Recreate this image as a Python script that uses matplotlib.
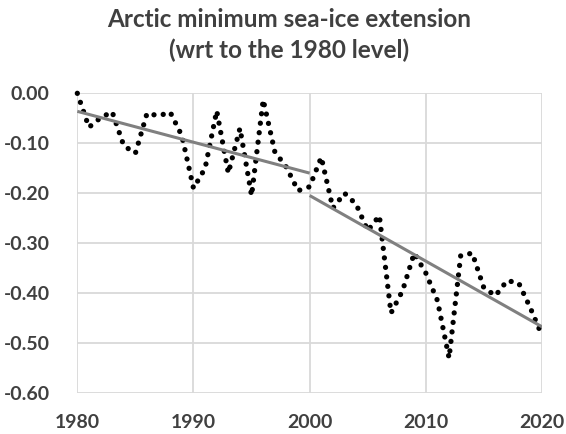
import numpy as np
import matplotlib.pyplot as plt

# yearly minimum sea-ice extension relative to 1980
years = np.arange(1980, 2021)
extent = [0.000, -0.068, -0.049, -0.037, -0.105, -0.120, -0.040, -0.045, -0.038, -0.085,
          -0.190, -0.150, -0.035, -0.160, -0.070, -0.205, -0.013, -0.117, -0.148, -0.195,
          -0.187, -0.128, -0.230, -0.200, -0.222, -0.275, -0.245, -0.440, -0.395, -0.320,
          -0.360, -0.415, -0.530, -0.325, -0.320, -0.390, -0.405, -0.375, -0.380, -0.430,
          -0.485]
trend_periods = [(1980, 2000), (2000, 2020)]
x_ticks = [1980, 1990, 2000, 2010, 2020]
y_ticks = [0.0, -0.1, -0.2, -0.3, -0.4, -0.5, -0.6]

txt = '#404040'
font = 'Lato'

fig = plt.figure(figsize=(5.66, 4.34), dpi=100)
ax = fig.add_axes([0.1366, 0.0945, 0.821, 0.6905])

ext = np.array(extent)
ax.plot(years, ext, color='black', lw=3.8, linestyle=(0, (0.01, 1.8)),
        dash_capstyle='round', solid_capstyle='round', zorder=3, clip_on=False)

# linear trends for the two periods
for start, end in trend_periods:
    m = (years >= start) & (years <= end)
    k, b = np.polyfit(years[m], ext[m], 1)
    xs = np.array([start, end])
    ax.plot(xs, k * xs + b, color='#808080', lw=2.2, solid_capstyle='butt', zorder=4)

ax.set_xlim(1980, 2020)
ax.set_ylim(-0.6, 0.0)
ax.set_xticks(x_ticks)
ax.set_yticks(y_ticks)
ax.set_xticklabels([str(t) for t in x_ticks])
ax.set_yticklabels([f'{t:.2f}' if t != 0 else '0.00' for t in y_ticks])
ax.grid(True, color='#d9d9d9', lw=1.3)
ax.set_axisbelow(True)
for s in ax.spines.values():
    s.set_visible(False)
ax.tick_params(length=0, labelsize=14, labelcolor=txt)
ax.tick_params(axis='x', pad=15)
ax.tick_params(axis='y', pad=20)
for lab in ax.get_xticklabels() + ax.get_yticklabels():
    lab.set_fontweight('bold')
    lab.set_family(font)

fig.text(0.51, 0.955, 'Arctic minimum sea-ice extension', ha='center', va='center',
         fontsize=17.5, fontweight='bold', color=txt, family=font)
fig.text(0.51, 0.884, '(wrt to the 1980 level)', ha='center', va='center',
         fontsize=17.5, fontweight='bold', color=txt, family=font)

fig.savefig('out.png', dpi=100)
